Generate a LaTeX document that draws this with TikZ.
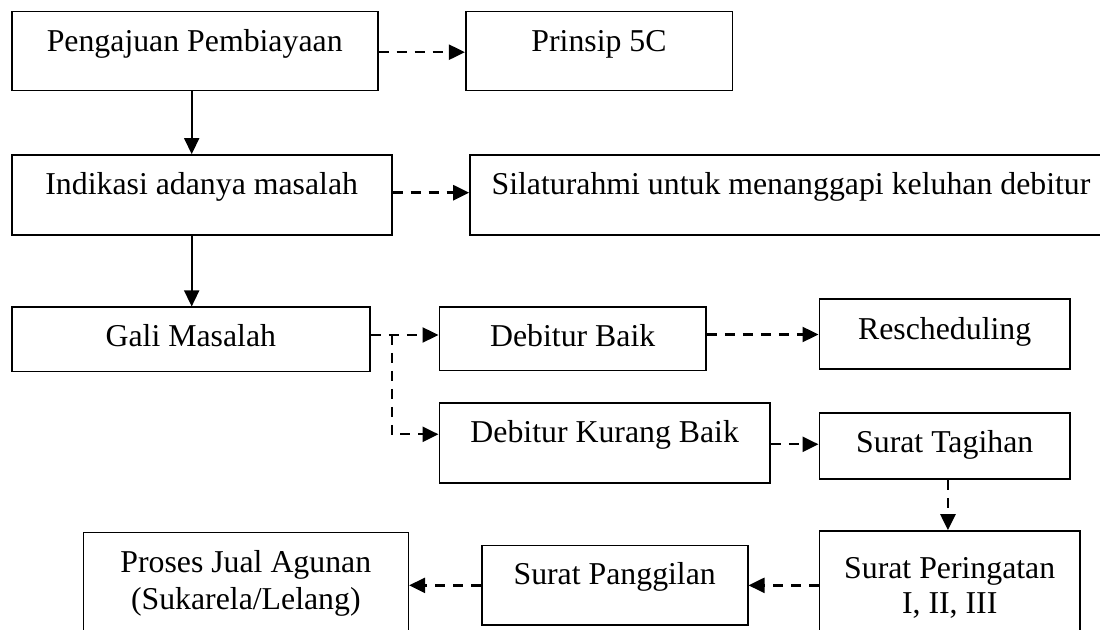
\documentclass[tikz,border=0pt]{standalone}
\usepackage{fontspec}
\setmainfont{Liberation Serif}
\usetikzlibrary{arrows.meta,fit,calc}
\begin{document}
\begin{tikzpicture}[x=0.5pt,y=-0.5pt,
  box/.style={draw, line width=0.8pt, inner sep=0pt},
  lbl/.style={anchor=base, inner sep=0pt, font=\fontsize{15.9}{18}\selectfont},
  dline/.style={line width=1.2pt, dash pattern=on 5pt off 4pt},
  sline/.style={line width=0.8pt},
  tip/.style={-{Triangle[length=8pt,width=7.5pt]}},
  ]
\clip (0,0) rectangle (1100,630);
\fill[white] (0,0) rectangle (1100,630);
% boxes
\node[box, fit={(11.7,11.7) (377.7,90.7)}] (pp) {};
\node[box, fit={(465.7,11.7) (732.3,90.7)}] (p5) {};
\node[box, fit={(11.7,155) (391.7,235)}] (ind) {};
\node[box, fit={(470,155) (1112,235)}] (sil) {};
\node[box, fit={(11.7,307.3) (370,371.7)}] (gm) {};
\node[box, fit={(439.3,307.3) (706,370.7)}] (db) {};
\node[box, fit={(819.3,299.3) (1070,369.3)}] (rs) {};
\node[box, fit={(439.3,403.3) (770,483.3)}] (dkb) {};
\node[box, fit={(819.3,413.3) (1070,479.3)}] (st) {};
\node[box, fit={(819.3,531) (1080,660)}] (sp) {};
\node[box, fit={(481.7,545.7) (747.7,625)}] (spg) {};
\node[box, fit={(83.3,532.7) (408.3,660)}] (pj) {};
% texts
\node[lbl] (tpp) at (194.7,51.7) {Pengajuan Pembiayaan};
\node[lbl] (tp5) at (599,51.7) {Prinsip 5C};
\node[lbl] (tind) at (201.7,194.3) {Indikasi adanya masalah};
\node[lbl] (tsil) at (791,194.7) {Silaturahmi untuk menanggapi keluhan debitur};
\node[lbl] (tgm) at (190.8,346.7) {Gali Masalah};
\node[lbl] (tdb) at (572.7,346.7) {Debitur Baik};
\node[lbl] (trs) at (944.7,340) {Rescheduling};
\node[lbl] (tdkb) at (604.7,442.7) {Debitur Kurang Baik};
\node[lbl] (tst) at (944.7,452.7) {Surat Tagihan};
\node[lbl] (tsp1) at (949.7,579) {Surat Peringatan};
\node[lbl] (tsp2) at (949.7,613.3) {I, II, III};
\node[lbl] (tspg) at (614.7,585) {Surat Panggilan};
\node[lbl] (tpj1) at (245.8,572.7) {Proses Jual Agunan};
\node[lbl] (tpj2) at (245.8,610) {(Sukarela/Lelang)};
% connectors
\coordinate (vx) at (191.7,0);
\coordinate (jx) at (391.7,0);
\draw[sline,tip] (pp.south -| vx) -- (ind.north -| vx);
\draw[sline,tip] (ind.south -| vx) -- (gm.north -| vx);
\draw[dline,tip] ($(pp.east)+(0,1)$) coordinate (a1) -- (a1 -| p5.west);
\draw[dline,tip] ($(ind.east)+(0,-2.3)$) coordinate (a2) -- (a2 -| sil.west);
\draw[dline,tip] ($(gm.east)+(0,-4.5)$) coordinate (a3) -- (a3 -| db.west);
\draw[dline,tip] (a3 -| jx) |- ($(dkb.west)+(0,-9)$);
\draw[dline,tip] ($(db.east)+(0,-4.5)$) coordinate (a4) -- (a4 -| rs.west);
\draw[dline,tip] ($(dkb.east)+(0,1)$) coordinate (a5) -- (a5 -| st.west);
\draw[dline,tip] ($(st.south)+(3.3,0)$) coordinate (a6) -- (a6 |- sp.north);
\draw[dline,tip] (spg.east -| sp.west) -- (spg.east);
\draw[dline,tip] (spg.west) -- (spg.west -| pj.east);
\end{tikzpicture}
\end{document}
